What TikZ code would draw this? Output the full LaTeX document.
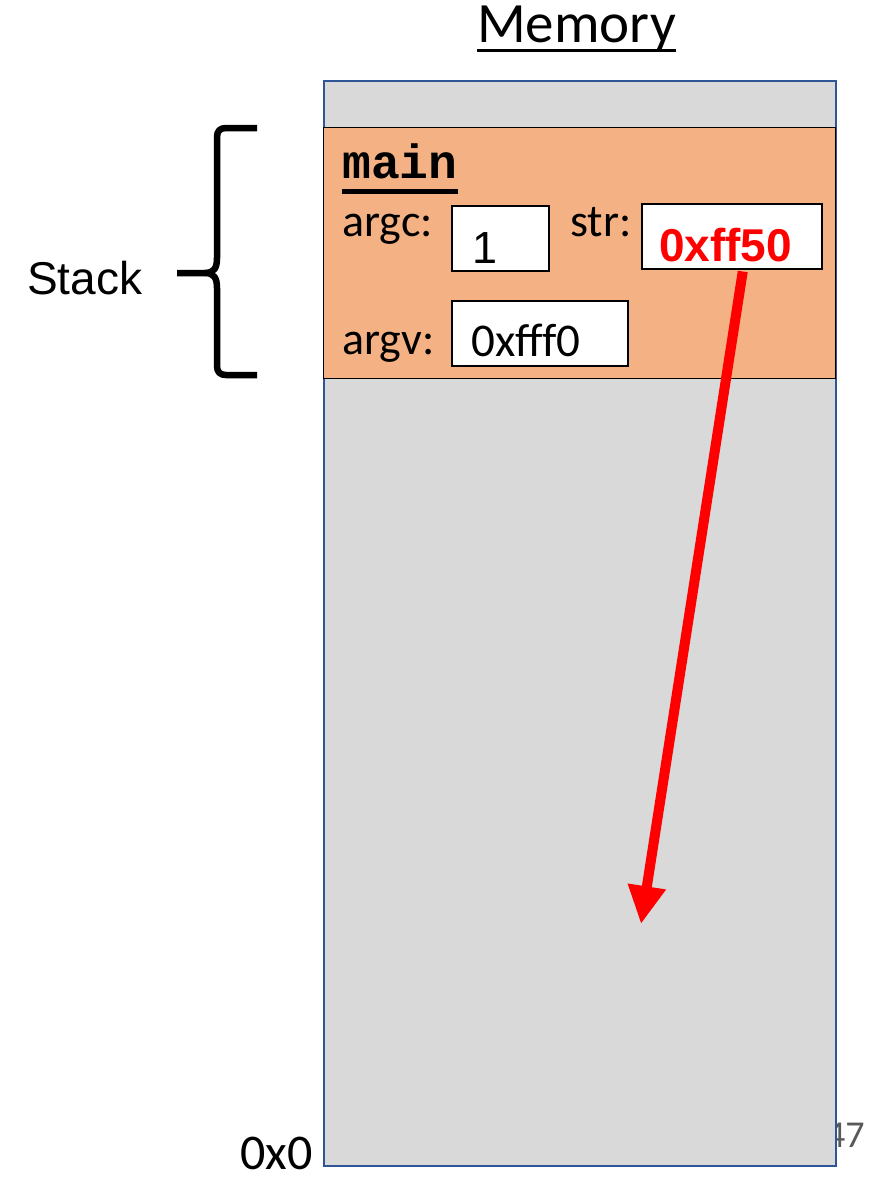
\documentclass[tikz,border=0pt]{standalone}
\usepackage{fontspec}
\setmainfont{Carlito}
\newfontfamily\arialf{Liberation Sans}
\newfontfamily\courierf{Liberation Mono}
\usetikzlibrary{arrows.meta}
\definecolor{memgray}{HTML}{D9D9D9}
\definecolor{memblue}{HTML}{2F5597}
\definecolor{frameorange}{HTML}{F4B183}
\definecolor{ptrred}{HTML}{FF0000}
\definecolor{pagegray}{HTML}{595959}
\begin{document}
\begin{tikzpicture}[x=1pt,y=-1pt,
  lbl/.style={inner sep=0pt,anchor=base west,font=\fontsize{46}{50}\selectfont},
  valbox/.style={draw=black,fill=white,line width=1.5pt,inner sep=0pt,anchor=north west},
  ptr/.style={draw=ptrred,line width=10pt,-{Triangle[width=36pt,length=38pt]}},
  bracestyle/.style={draw=black,line width=6.5pt,line join=round}]
\useasboundingbox (0,0) rectangle (879,1181);
% page number (partly behind the column)
\node[inner sep=0pt,anchor=base west,text=pagegray,font=\fontsize{38}{40}\selectfont] (page) at (826,1147) {47};
% memory column
\node[draw=memblue,fill=memgray,line width=2pt,inner sep=0pt,anchor=north west,
      minimum width=512pt,minimum height=1085pt] (mem) at (323,80) {};
% stack frame
\node[draw=black,fill=frameorange,line width=1.2pt,inner sep=0pt,anchor=north west,
      minimum width=512pt,minimum height=251pt] (frame) at (323,127) {};
% title
\node[inner sep=0pt,anchor=base west,font=\fontsize{57}{60}\selectfont] (title) at (477,42) {Memory};
\draw[line width=3pt] (title.base west |- 0,50) -- (title.base east |- 0,50);
% frame name
\node[inner sep=0pt,anchor=base west,font=\courierf\bfseries\fontsize{48}{50}\selectfont] (fname) at (342,178) {main};
\draw[line width=5pt] (fname.base west |- 0,191) -- (fname.base east |- 0,191);
% labels
\node[lbl] (argcl) at (342,236) {argc:};
\node[lbl] (strl) at (570,236) {str:};
\node[lbl] (argvl) at (342,354) {argv:};
% value boxes
\node[valbox,minimum width=97pt,minimum height=65pt] (argcbox) at (451,205) {};
\node[valbox,minimum width=180pt,minimum height=65pt] (strbox) at (641,203) {};
\node[valbox,minimum width=176pt,minimum height=65pt] (argvbox) at (451,300) {};
\node[inner sep=0pt,anchor=base west,font=\arialf\fontsize{45}{50}\selectfont] (argcv) at (472,263) {1};
\node[inner sep=0pt,anchor=base west,text=ptrred,font=\arialf\bfseries\fontsize{46}{50}\selectfont] (strv) at (659,261) {0xff50};
\node[lbl,font=\fontsize{47}{50}\selectfont] (argvv) at (471,356) {0xfff0};
% pointer
\coordinate (tgt) at (641,924);
\draw[ptr] ([xshift=11pt,yshift=-2pt]strbox.south) -- (tgt);
% stack brace and label
\coordinate (braceTip) at (177,273);
\draw[bracestyle] (257,128) -- (226,128) .. controls (220,128) and (217,131) .. (217,137)
  -- (217,258) .. controls (217,268) and (214,273) .. (205,273) -- (braceTip);
\draw[bracestyle] (205,273) .. controls (214,273) and (217,278) .. (217,288)
  -- (217,366) .. controls (217,372) and (220,375) .. (226,375) -- (257,375);
\node[inner sep=0pt,anchor=base west,font=\arialf\fontsize{46}{50}\selectfont] (stack) at (27,294) {Stack};
% address
\node[inner sep=0pt,anchor=base east,font=\fontsize{50}{52}\selectfont] (addr) at (313,1169) {0x0};
\end{tikzpicture}
\end{document}
